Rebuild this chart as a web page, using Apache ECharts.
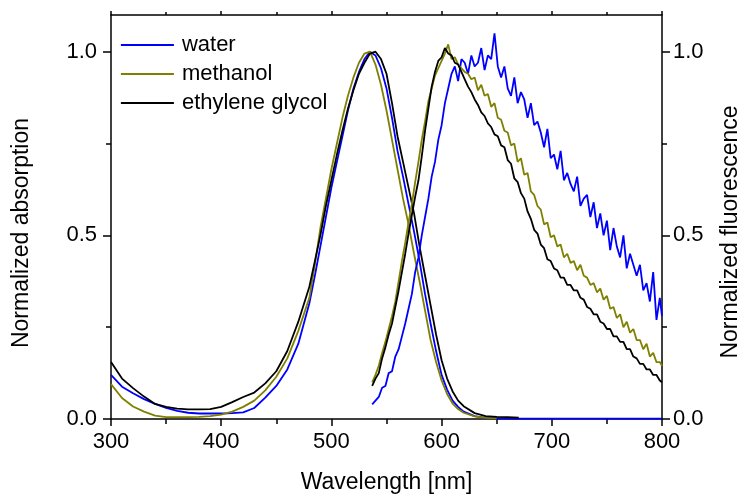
<!DOCTYPE html>
<html><head><meta charset="utf-8">
<script src="https://cdn.jsdelivr.net/npm/echarts@6.0.0/dist/echarts.min.js"></script>
<style>html,body{margin:0;padding:0;background:#fff}#c{width:741px;height:499px}</style>
</head><body><div id="c"></div>
<script>
// ---- Absorption (normalized) ----
const absWl = [300,310,320,330,340,350,360,370,380,390,
  400,410,420,430,440,450,460,470,
  480,485,490,495,500,505,510,515,520,525,
  530,535,540,545,550,555,560,565,570,575,
  580,585,590,595,600,605,610,615,620,
  630,640,650,660,670,680,690,700,710,720,
  730,740,750,760,770,780,790,800];
const absWater = [0.12,0.088,0.07,0.054,0.041,0.03,0.022,0.017,0.015,0.015,
  0.015,0.016,0.018,0.03,0.058,0.09,0.135,0.205,
  0.315,0.39,0.47,0.55,0.63,0.70,0.77,0.84,0.90,0.945,
  0.98,1.0,0.99,0.955,0.90,0.82,0.73,0.66,0.585,0.51,
  0.43,0.34,0.26,0.185,0.12,0.08,0.05,0.033,0.02,
  0.008,0.003,0.002,0.001,0.001,0.001,0.001,0.001,0.001,0.001,
  0.001,0.001,0.001,0.001,0.001,0.001,0.001,0.001];
const absMethanol = [0.095,0.057,0.034,0.02,0.009,0.005,0.005,0.005,0.006,0.008,
  0.012,0.02,0.033,0.05,0.078,0.115,0.165,0.24,
  0.33,0.42,0.52,0.60,0.68,0.75,0.82,0.88,0.93,0.97,
  0.995,1.0,0.965,0.91,0.84,0.76,0.68,0.60,0.53,0.45,
  0.375,0.295,0.215,0.155,0.105,0.068,0.042,0.027,0.017,
  0.007,0.003,0.002];
const absGlycol = [0.155,0.11,0.084,0.061,0.041,0.033,0.028,0.026,0.026,0.027,
  0.033,0.046,0.06,0.072,0.097,0.13,0.185,0.265,
  0.36,0.43,0.5,0.58,0.65,0.72,0.785,0.845,0.895,0.94,
  0.97,0.995,1.0,0.98,0.94,0.86,0.77,0.70,0.63,0.56,
  0.47,0.39,0.31,0.23,0.16,0.11,0.075,0.05,0.035,
  0.016,0.008,0.006,0.005,0.004];

// ---- Fluorescence (normalized) ----
const fluoWl = [537,540,543,546,549,552,555,558,561,564,
  567,570,573,576,579,582,585,588,591,594,
  597,600,603,606,609,612,615,618,621,624,
  627,630,633,636,639,642,645,648,651,654,
  657,660,663,666,669,672,675,678,681,684,
  687,690,693,696,699,702,705,708,711,714,
  717,720,723,726,729,732,735,738,741,744,
  747,750,753,756,759,762,765,768,771,774,
  777,780,783,786,789,792,795,798,800];
const fluoWater = [0.04,0.05,0.06,0.085,0.09,0.125,0.13,0.17,0.19,0.225,
  0.26,0.30,0.34,0.40,0.44,0.50,0.55,0.60,0.66,0.70,
  0.76,0.80,0.86,0.90,0.94,0.96,0.92,0.98,0.97,0.94,
  0.99,0.96,0.97,1.01,0.95,0.99,0.98,1.05,0.96,0.93,
  0.96,0.90,0.88,0.93,0.86,0.89,0.87,0.82,0.86,0.80,
  0.81,0.78,0.74,0.79,0.71,0.72,0.68,0.73,0.65,0.67,
  0.64,0.62,0.66,0.58,0.60,0.61,0.55,0.59,0.52,0.56,
  0.50,0.54,0.46,0.52,0.47,0.44,0.50,0.41,0.45,0.42,
  0.39,0.42,0.35,0.37,0.32,0.40,0.27,0.33,0.28];
const fluoMethanol = [0.10,0.12,0.145,0.18,0.21,0.245,0.28,0.32,0.375,0.43,
  0.48,0.535,0.585,0.645,0.70,0.76,0.81,0.865,0.90,0.935,
  0.955,0.975,0.995,1.02,0.98,0.985,0.965,0.955,0.945,0.94,
  0.925,0.93,0.895,0.91,0.88,0.885,0.85,0.86,0.82,0.815,
  0.785,0.78,0.745,0.75,0.70,0.71,0.665,0.67,0.62,0.61,
  0.58,0.57,0.53,0.535,0.495,0.50,0.47,0.475,0.44,0.45,
  0.425,0.43,0.405,0.42,0.39,0.385,0.365,0.37,0.345,0.355,
  0.325,0.335,0.30,0.305,0.275,0.285,0.25,0.265,0.235,0.245,
  0.215,0.215,0.19,0.205,0.17,0.18,0.155,0.155,0.145];
const fluoGlycol = [0.09,0.11,0.125,0.165,0.195,0.23,0.26,0.305,0.35,0.40,
  0.45,0.505,0.555,0.605,0.65,0.715,0.785,0.845,0.905,0.945,
  0.975,0.985,1.01,0.995,0.99,0.97,0.965,0.945,0.925,0.905,
  0.89,0.87,0.855,0.835,0.825,0.805,0.795,0.775,0.77,0.745,
  0.74,0.705,0.695,0.655,0.645,0.615,0.60,0.565,0.545,0.515,
  0.505,0.475,0.465,0.435,0.43,0.41,0.405,0.385,0.385,0.365,
  0.365,0.35,0.35,0.33,0.325,0.305,0.30,0.285,0.285,0.265,
  0.26,0.245,0.245,0.225,0.225,0.21,0.21,0.19,0.19,0.17,
  0.165,0.15,0.15,0.135,0.135,0.12,0.12,0.105,0.10];

const names = ['water','methanol','ethylene glycol'];
const colors = ['#0000FF','#808000','#000000'];
const yMajor = [0,0.5,1.0];
const yMinor = [0.25,0.75];

const FONT = 'Arial, "Liberation Sans", sans-serif';
function pairs(xs, ys){ const out=[]; for(let i=0;i<ys.length;i++) out.push([xs[i], ys[i]]); return out; }
function line(name, color, data, yIdx){
  return {type:'line', name, data, xAxisIndex:0, yAxisIndex:yIdx, showSymbol:false, symbol:'none',
    lineStyle:{color, width:1.8}, itemStyle:{color}, animation:false, z:3};
}
const axisLineStyle = {color:'#000', width:1.5};
function yMain(pos, margin){
  return {type:'value', position:pos, min:0, max:1.1,
    axisLine:{show:true, onZero:false, lineStyle:axisLineStyle},
    axisTick:{show:true, inside:false, length:8, lineStyle:axisLineStyle, customValues:yMajor},
    axisLabel:{show:true, customValues:yMajor, margin, color:'#000', fontSize:22, fontFamily:FONT,
      formatter:v=>v.toFixed(1)},
    splitLine:{show:false}};
}
function yMinorAxis(pos){
  return {type:'value', position:pos, min:0, max:1.1,
    axisLine:{show:false},
    axisTick:{show:true, inside:false, length:5, lineStyle:axisLineStyle, customValues:yMinor},
    axisLabel:{show:false}, splitLine:{show:false}};
}

const option = {
  backgroundColor:'#fff',
  animation:false,
  grid:{left:111, right:79, top:15, bottom:80, containLabel:false},
  legend:{data:names, left:115, top:29, orient:'vertical', itemWidth:53, itemHeight:14, itemGap:7,
    itemStyle:{opacity:0, borderWidth:0},
    lineStyle:{width:1.8},
    textStyle:{fontSize:22, fontFamily:FONT, color:'#000', padding:[0,0,0,3]}},
  xAxis:[
    {type:'value', position:'bottom', min:300, max:800, interval:100,
      axisLine:{show:true, onZero:false, lineStyle:axisLineStyle},
      axisTick:{show:true, inside:false, length:7, lineStyle:axisLineStyle},
      minorTick:{show:true, splitNumber:2, length:5, lineStyle:axisLineStyle},
      axisLabel:{show:true, margin:12, color:'#000', fontSize:22, fontFamily:FONT},
      splitLine:{show:false}, minorSplitLine:{show:false},
      name:'Wavelength [nm]', nameLocation:'middle', nameGap:52,
      nameTextStyle:{fontSize:23, fontFamily:FONT, color:'#000'}},
    {type:'value', position:'top', min:300, max:800, interval:100,
      axisLine:{show:true, onZero:false, lineStyle:axisLineStyle},
      axisTick:{show:true, inside:false, length:4, lineStyle:axisLineStyle},
      minorTick:{show:true, splitNumber:2, length:3, lineStyle:axisLineStyle},
      axisLabel:{show:false}, splitLine:{show:false}}
  ],
  yAxis:[ yMain('left', 14), yMinorAxis('left'), yMain('right', 11), yMinorAxis('right') ],
  graphic:[
    {type:'text', x:22, y:233, rotation:Math.PI/2,
      style:{text:'Normalized absorption', fontSize:23, fontFamily:FONT, fill:'#000', align:'center', verticalAlign:'middle'}},
    {type:'text', x:731, y:232, rotation:Math.PI/2,
      style:{text:'Normalized fluorescence', fontSize:23, fontFamily:FONT, fill:'#000', align:'center', verticalAlign:'middle'}}
  ],
  series:[
    line(names[0], colors[0], pairs(absWl, absWater), 0),
    line(names[1], colors[1], pairs(absWl, absMethanol), 0),
    line(names[2], colors[2], pairs(absWl, absGlycol), 0),
    line(names[0], colors[0], pairs(fluoWl, fluoWater), 2),
    line(names[1], colors[1], pairs(fluoWl, fluoMethanol), 2),
    line(names[2], colors[2], pairs(fluoWl, fluoGlycol), 2)
  ]
};
const chart = echarts.init(document.getElementById('c'));
chart.setOption(option);
</script>
</body></html>
